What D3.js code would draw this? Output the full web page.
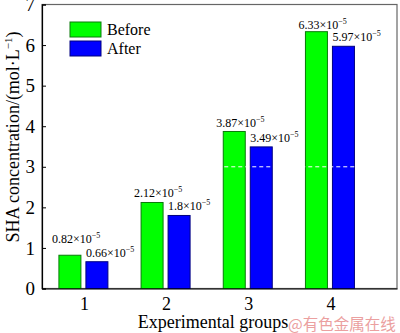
<!DOCTYPE html>
<html>
<head>
<meta charset="utf-8">
<script src="https://cdn.jsdelivr.net/npm/d3@7"></script>
<style>
  body { margin: 0; background: #fff; }
  svg { display: block; font-family: "Liberation Serif", "Times New Roman", serif; }
</style>
</head>
<body>
<div id="chart-area"></div>
<script>
// data
var groups = [1, 2, 3, 4];
var before = [0.82, 2.12, 3.87, 6.33];
var after = [0.66, 1.8, 3.49, 5.97];
var beforeLabels = ["0.82", "2.12", "3.87", "6.33"];
var afterLabels = ["0.66", "1.8", "3.49", "5.97"];
var yTicks = [0, 1, 2, 3, 4, 5, 6, 7];

var svg = d3.select("#chart-area")
  .append("svg")
  .attr("width", 400)
  .attr("height", 333);

var x = d3.scaleLinear().domain([0.49, 4.81]).range([42, 397]);
var y = d3.scaleLinear().domain([0, 7]).range([288.5, 4.5]);

// frame (top/right grey)
svg.append("rect")
  .attr("x", 42).attr("y", 4.5)
  .attr("width", 355).attr("height", 284)
  .attr("fill", "none")
  .attr("stroke", "#666")
  .attr("stroke-width", 1.2);

// bars
var barW = 22;
svg.selectAll(".before")
  .data(groups)
  .enter().append("rect")
  .attr("x", function(d) { return x(d) - 25; })
  .attr("y", function(d, i) { return y(before[i]); })
  .attr("width", barW)
  .attr("height", function(d, i) { return y(0) - y(before[i]); })
  .attr("fill", "#00ff00")
  .attr("stroke", "#0a7a0a")
  .attr("stroke-width", 1);

svg.selectAll(".after")
  .data(groups)
  .enter().append("rect")
  .attr("x", function(d) { return x(d) + 2; })
  .attr("y", function(d, i) { return y(after[i]); })
  .attr("width", barW)
  .attr("height", function(d, i) { return y(0) - y(after[i]); })
  .attr("fill", "#0000ff")
  .attr("stroke", "#000080")
  .attr("stroke-width", 1);

// white dashed line at 3 over groups 3 and 4
svg.append("line")
  .attr("x1", x(3) - 38).attr("x2", x(4) + 26)
  .attr("y1", y(3)).attr("y2", y(3))
  .attr("stroke", "#fff")
  .attr("stroke-width", 1)
  .attr("stroke-dasharray", "4,3");

// value labels
function addLabel(xx, yy, val) {
  var t = svg.append("text")
    .attr("x", xx).attr("y", yy)
    .attr("font-size", "12px")
    .attr("fill", "#000");
  t.append("tspan").text(val + "\u00d710");
  t.append("tspan").attr("dy", -5).attr("font-size", "8px").text("\u22125");
}
var beforeLift = [12, 5, 4, 3];
groups.forEach(function(g, i) {
  addLabel(x(g) - 32, y(before[i]) - beforeLift[i], beforeLabels[i]);
  addLabel(x(g) + 2, y(after[i]) - 5, afterLabels[i]);
});

// axes
var yAxis = d3.axisLeft(y).tickValues(yTicks).tickSize(-4).tickPadding(7).tickFormat(d3.format("d"));
var gy = svg.append("g").attr("transform", "translate(42,0)").call(yAxis);
gy.select(".domain").attr("stroke", "#000").attr("stroke-width", 1.2);
gy.selectAll("text").attr("font-size", "19px").attr("font-family", "Liberation Serif").attr("fill", "#000");

var xAxis = d3.axisBottom(x).tickValues(groups).tickSize(0).tickPadding(9).tickFormat(d3.format("d"));
var gx = svg.append("g").attr("transform", "translate(0,288.5)").call(xAxis);
gx.select(".domain").attr("stroke", "#000").attr("stroke-width", 1.2);
gx.selectAll("text").attr("font-size", "18px").attr("font-family", "Liberation Serif").attr("fill", "#000");

// axis titles
svg.append("text")
  .attr("x", 213).attr("y", 328)
  .attr("text-anchor", "middle")
  .attr("font-size", "18px")
  .text("Experimental groups");

var yt = svg.append("text")
  .attr("transform", "translate(19,137) rotate(-90)")
  .attr("text-anchor", "middle")
  .attr("font-size", "18px");
yt.append("tspan").text("SHA concentration/(mol\u00b7L");
yt.append("tspan").attr("dy", -7).attr("font-size", "11px").text("\u22121");
yt.append("tspan").attr("dy", 7).text(")");

// legend
var legend = [["Before", "#00ff00", "#0a7a0a"], ["After", "#0000ff", "#000080"]];
legend.forEach(function(l, i) {
  svg.append("rect")
    .attr("x", 70).attr("y", 22 + i * 19)
    .attr("width", 31).attr("height", 15)
    .attr("fill", l[1]).attr("stroke", l[2]);
  svg.append("text")
    .attr("x", 107).attr("y", 35 + i * 19)
    .attr("font-size", "16px")
    .text(l[0]);
});

// watermark
svg.append("text")
  .attr("x", 288).attr("y", 330)
  .attr("font-size", "15.5px")
  .attr("font-family", "Noto Sans CJK SC")
  .attr("fill", "#eba0a0")
  .text("@有色金属在线");
</script>
</body>
</html>
